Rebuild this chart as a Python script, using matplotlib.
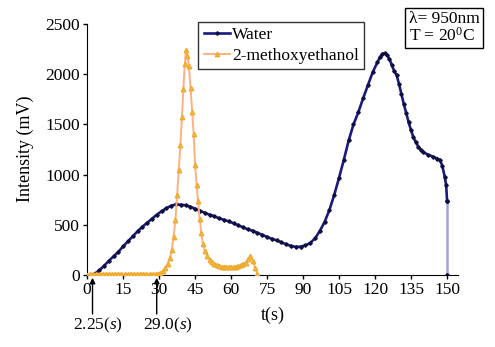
import matplotlib
matplotlib.use("Agg")
import matplotlib.pyplot as plt

plt.rcParams['font.family'] = ['Liberation Serif', 'DejaVu Serif']
plt.rcParams['mathtext.fontset'] = 'custom'
plt.rcParams['mathtext.rm'] = 'Liberation Serif'
plt.rcParams['mathtext.it'] = 'Liberation Serif:italic'

# Water
t_water = [2.25, 3, 5, 7, 9, 11, 13, 15, 17, 19, 21, 23, 25, 27, 29, 31, 33, 35, 37, 39,
           41, 43, 45, 47, 49, 51, 53, 55, 57, 59, 61, 63, 65, 67, 69, 71, 73, 75, 77, 79,
           81, 83, 85, 87, 89, 91, 93, 95, 97, 99, 101, 103, 105, 107, 109, 111, 113, 115,
           117, 119, 121, 122, 123, 124, 125, 126, 127, 128, 129, 130, 131, 132, 133, 134,
           135, 136, 137, 138, 139, 140, 142, 144, 146, 147, 148, 149, 149.6, 150]
i_water = [0, 10, 45, 90, 140, 185, 230, 285, 335, 385, 435, 480, 520, 560, 600, 635, 665, 690, 703, 700,
           695, 680, 660, 640, 620, 600, 585, 565, 550, 535, 515, 495, 475, 455, 440, 420, 400, 380, 360, 345,
           325, 305, 290, 280, 282, 295, 320, 365, 440, 530, 650, 800, 970, 1150, 1340, 1500, 1620, 1760,
           1890, 2020, 2120, 2170, 2200, 2210, 2190, 2150, 2090, 2030, 1990, 1900, 1800, 1700, 1610, 1520,
           1440, 1370, 1320, 1280, 1250, 1225, 1200, 1180, 1160, 1145, 1090, 980, 900, 740]
t_drop = [150, 150]
i_drop = [740, 0]

# 2-methoxyethanol
t_meth = [0, 1.3, 2.6, 3.9, 5.2, 6.5, 7.8, 9.1, 10.4, 11.7, 13, 14.3, 15.6, 16.9, 18.2, 19.5,
          20.8, 22.1, 23.4, 24.7, 26, 27.3, 28.6, 29.5, 30.5, 31.5, 32.5, 33.5, 34.5, 35.3, 36,
          36.8, 37.5, 38.2, 38.9, 39.5, 40.1, 40.7, 41.2, 41.8, 42.4, 43.1, 43.8, 44.4, 45, 45.6,
          46.2, 46.9, 47.6, 48.3, 49, 50, 51, 52, 53, 54, 55, 56, 57, 58, 59, 60, 61, 62, 63, 64,
          65, 66, 67, 68, 69, 70, 71]
i_meth = [0, 5, 8, 10, 8, 10, 12, 10, 8, 10, 12, 10, 8, 10, 12, 10,
          8, 10, 12, 10, 8, 10, 10, 12, 20, 40, 70, 110, 170, 250, 380,
          550, 800, 1050, 1300, 1570, 1850, 2100, 2240, 2180, 2080, 1860, 1620, 1400, 1100, 900,
          740, 560, 420, 310, 240, 190, 150, 125, 110, 100, 90, 82, 78, 75, 75, 76, 78, 82, 88, 95,
          105, 120, 155, 185, 140, 70, 10]

xticks = [0, 15, 30, 45, 60, 75, 90, 105, 120, 135, 150]
yticks = [0, 500, 1000, 1500, 2000, 2500]

fig = plt.figure(figsize=(4.95, 3.47), dpi=100)
ax = fig.add_axes([0.176, 0.2075, 0.749, 0.729])

ax.plot(t_water, i_water, color='#1a1a80', lw=1.9, marker='D', ms=1.8,
        mfc='#101040', mec='#101040', label='Water', zorder=3)
ax.plot(t_drop, i_drop, color='#a0a0e6', lw=1.8, marker='D', ms=2.0,
        mfc='#101040', mec='#101040', zorder=2)
ax.plot(t_meth, i_meth, color='#ffb080', lw=1.4, marker='^', ms=3.2,
        mfc='#f5c040', mec='#eeaa30', label='2-methoxyethanol', zorder=4)

ax.set_xlim(0, 154.5)
ax.set_ylim(0, 2520)
ax.set_xticks(xticks)
ax.set_yticks(yticks)
ax.tick_params(labelsize=12.5, direction='out', length=3, width=1, pad=2)
ax.spines['top'].set_visible(False)
ax.spines['right'].set_visible(False)
ax.spines['left'].set_bounds(0, 2500)
ax.set_ylabel('Intensity (mV)', fontsize=13, labelpad=8)
ax.set_xlabel('t(s)', fontsize=13, labelpad=6)

leg = ax.legend(loc='upper left', bbox_to_anchor=(0.3, 1.0), fontsize=12.5,
                frameon=True, fancybox=False, edgecolor='black', handlelength=1.5,
                handletextpad=0.15, borderpad=0.3, labelspacing=0.25, borderaxespad=0)
leg.get_frame().set_linewidth(1.0)

fig.text(0.826, 0.968, 'λ= 950nm\nT = 20$^{0}$C', fontsize=12.5, va='top', ha='left',
         linespacing=0.95,
         bbox=dict(boxstyle='square,pad=0.2', fc='white', ec='black', lw=1.0))

# arrows marking start times
trans = ax.get_xaxis_transform()
for t0, label, tx in [(2.25, '2.25($s$)', 4.6), (29.0, '29.0($s$)', 33.5)]:
    ax.annotate('', xy=(t0, 0), xycoords='data', xytext=(t0, -0.165), textcoords=trans,
                arrowprops=dict(arrowstyle='-|>', color='black', lw=1.0, mutation_scale=8),
                annotation_clip=False)
    ax.text(tx, -0.2, label, transform=trans, ha='center', va='center', fontsize=12.5)

fig.savefig('out.png', dpi=100)
